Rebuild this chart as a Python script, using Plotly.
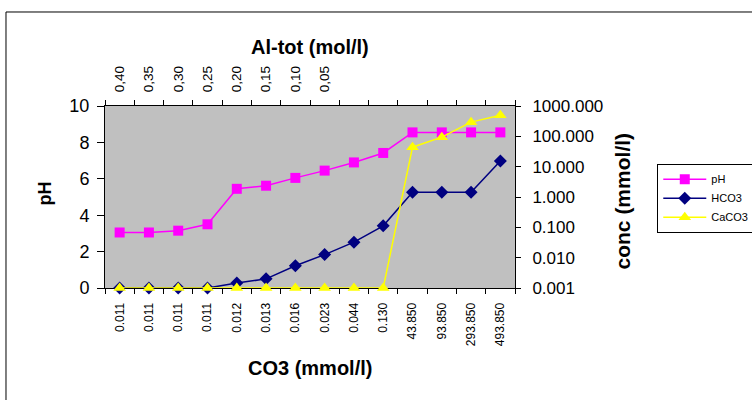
import plotly.graph_objects as go

# Category labels along the bottom (CO3, mmol/l) and top (Al-tot, mol/l) axes
co3_labels = ["0.011", "0.011", "0.011", "0.011", "0.012", "0.013", "0.016",
              "0.023", "0.044", "0.130", "43.850", "93.850", "293.850", "493.850"]
al_labels = ["0,40", "0,35", "0,30", "0,25", "0,20", "0,15", "0,10", "0,05"]

# Series values
ph = [3.05, 3.05, 3.15, 3.5, 5.45, 5.62, 6.05, 6.45, 6.9, 7.42, 8.55, 8.55, 8.55, 8.55]
hco3 = [0.001, 0.001, 0.001, 0.001, 0.00145, 0.002, 0.0054, 0.0126, 0.0325, 0.112,
        1.43, 1.43, 1.43, 15.5]
caco3 = [0.001, 0.001, 0.001, 0.001, 0.001, 0.001, 0.001, 0.001, 0.001, 0.001,
         43.85, 93.85, 293.85, 493.85]

conc_ticks = [0.001, 0.01, 0.1, 1, 10, 100, 1000]

idx = list(range(len(co3_labels)))
bounds = [i - 0.5 for i in range(len(co3_labels) + 1)]
FONT = "Liberation Sans, Arial, sans-serif"

fig = go.Figure()
fig.add_trace(go.Scatter(
    x=idx, y=ph, name="pH", mode="lines+markers",
    line=dict(color="#FF00FF", width=1.5),
    marker=dict(symbol="square", size=10, color="#FF00FF"),
    cliponaxis=False, xaxis="x", yaxis="y"))
fig.add_trace(go.Scatter(
    x=idx, y=hco3, name="HCO3", mode="lines+markers",
    line=dict(color="#000080", width=1.5),
    marker=dict(symbol="diamond", size=10, color="#000080"),
    cliponaxis=False, xaxis="x", yaxis="y2"))
fig.add_trace(go.Scatter(
    x=idx, y=caco3, name="CaCO3", mode="lines+markers",
    line=dict(color="#FFFF00", width=1.5),
    marker=dict(symbol="triangle-up", size=11, color="#FFFF00"),
    cliponaxis=False, xaxis="x", yaxis="y2"))
# invisible trace so the top (Al-tot) axis is rendered
fig.add_trace(go.Scatter(
    x=idx[:len(al_labels)], y=[None] * len(al_labels), mode="lines",
    showlegend=False, hoverinfo="skip", xaxis="x2", yaxis="y"))

axis_common = dict(showline=True, linecolor="black", linewidth=1,
                   showgrid=False, zeroline=False)

fig.update_layout(
    width=752, height=400,
    margin=dict(l=105, r=237, t=106, b=112, autoexpand=False),
    paper_bgcolor="white", plot_bgcolor="#C0C0C0",
    font=dict(family=FONT, color="black"),
    xaxis=dict(range=[-0.5, 13.5], tickmode="array", tickvals=idx,
               ticktext=co3_labels, tickangle=-90, ticks="",
               ticklabelstandoff=9, tickfont=dict(size=12),
               layer="below traces",
               minor=dict(tickvals=bounds, ticks="outside", ticklen=5,
                          tickcolor="black"),
               **axis_common),
    xaxis2=dict(range=[-0.5, 13.5], overlaying="x", side="top",
                tickmode="array", tickvals=idx[:len(al_labels)],
                ticktext=al_labels, tickangle=-90, ticks="",
                ticklabelstandoff=10, tickfont=dict(size=13.5),
                minor=dict(tickvals=bounds, ticks="outside", ticklen=5,
                           tickcolor="black"),
                **axis_common),
    yaxis=dict(range=[0, 10], dtick=2, ticks="outside", ticklen=7,
               tickcolor="black", ticklabelstandoff=4,
               tickfont=dict(size=18), **axis_common),
    yaxis2=dict(type="log", range=[-3, 3], overlaying="y", side="right",
                tickmode="array", tickvals=conc_ticks,
                ticktext=[f"{v:.3f}" for v in conc_ticks],
                ticks="outside", ticklen=5, tickcolor="black",
                ticklabelstandoff=8,
                tickfont=dict(size=17), **axis_common),
    legend=dict(x=1.347, y=0.683, xanchor="left", yanchor="top",
                bordercolor="black", borderwidth=1, bgcolor="white",
                font=dict(size=11), tracegroupgap=0, itemwidth=43),
    showlegend=True,
)

title_font = dict(family=FONT, size=20, color="black")
fig.add_annotation(text="<b>Al-tot (mol/l)</b>", xref="paper", yref="paper",
                   x=0.5, y=1.324, xanchor="center", yanchor="middle",
                   showarrow=False, font=title_font)
fig.add_annotation(text="<b>CO3 (mmol/l)</b>", xref="paper", yref="paper",
                   x=0.5, y=-0.44, xanchor="center", yanchor="middle",
                   showarrow=False, font=title_font)
fig.add_annotation(text="<b>pH</b>", xref="paper", yref="paper",
                   x=-0.146, y=0.52, xanchor="center", yanchor="middle",
                   showarrow=False, textangle=-90,
                   font=dict(family=FONT, size=18, color="black"))
fig.add_annotation(text="<b>conc (mmol/l)</b>", xref="paper", yref="paper",
                   x=1.263, y=0.48, xanchor="center", yanchor="middle",
                   showarrow=False, textangle=-90,
                   font=dict(family=FONT, size=21, color="black"))

# outer chart frame
fig.add_shape(type="rect", xref="paper", yref="paper",
              x0=-0.2415, x1=1.62, y0=-0.7, y1=1.5165,
              line=dict(color="black", width=1), fillcolor="rgba(0,0,0,0)",
              layer="below")

fig.write_html("out.html")
